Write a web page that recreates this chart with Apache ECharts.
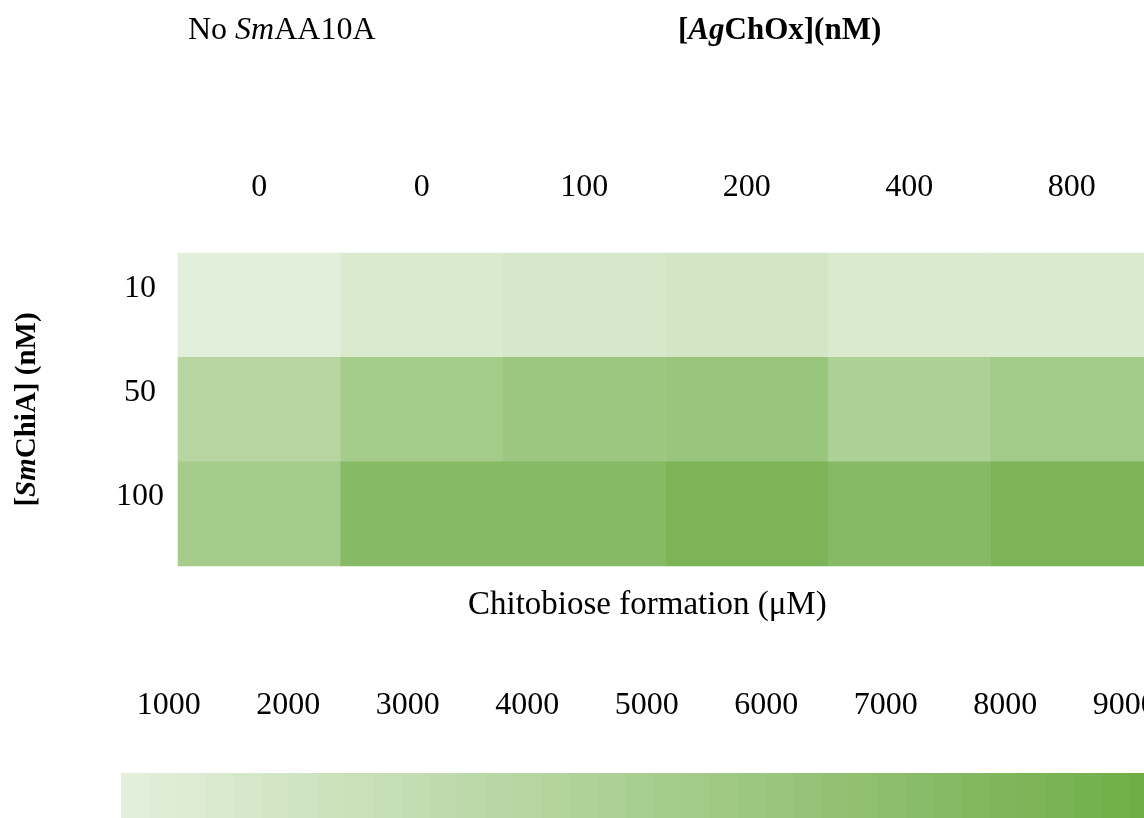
<!DOCTYPE html>
<html>
<head>
<meta charset="utf-8">
<title>Chitobiose formation heatmap</title>
<script src="https://cdn.jsdelivr.net/npm/echarts@6/dist/echarts.min.js"></script>
<style>
  html, body { margin: 0; padding: 0; background: #ffffff; }
  #chart { width: 1144px; height: 818px; }
</style>
</head>
<body>
<div id="chart"></div>
<script>
// [AgChOx] (nM) columns; the first column is the control without SmAA10A
const chOxLevels = ['0', '0', '100', '200', '400', '800'];
// [SmChiA] (nM) rows
const chiALevels = ['10', '50', '100'];

// Chitobiose formation (µM), one array per SmChiA level, ordered as chOxLevels
const chiA10 = [700, 1400, 1600, 2000, 1400, 1500];
const chiA50 = [4100, 5100, 5900, 6200, 4700, 5400];
const chiA100 = [5200, 7600, 7600, 8200, 7500, 8200];

// Colour scale range and its tick labels
const scaleMin = 600;
const scaleMax = 9270;
const scaleTicks = [1000, 2000, 3000, 4000, 5000, 6000, 7000, 8000, 9000];
const scaleSteps = 37;

const rows = [chiA10, chiA50, chiA100];
const cells = [];
rows.forEach(function (vals, r) {
  vals.forEach(function (v, c) { cells.push([c, r, v]); });
});

const serif = '"Liberation Serif", "Times New Roman", serif';
const txt = { fontFamily: serif, fontSize: 32, color: '#000', fontWeight: 'normal' };
const stepWidth = 28;
const barLength = stepWidth * scaleSteps;

const chart = echarts.init(document.getElementById('chart'), null, { renderer: 'canvas' });

chart.setOption({
  backgroundColor: '#ffffff',
  animation: false,
  title: [
    {
      text: '{r|No }{i|Sm}{r|AA10A}',
      left: 188, top: 15, padding: 0,
      textStyle: {
        fontWeight: 'normal',
        rich: {
          r: Object.assign({}, txt),
          i: Object.assign({}, txt, { fontStyle: 'italic' })
        }
      }
    },
    {
      text: '{b|[}{bi|Ag}{b|ChOx](nM)}',
      left: 678, top: 15, padding: 0,
      textStyle: {
        rich: {
          b: Object.assign({}, txt, { fontSize: 31, fontWeight: 'bold' }),
          bi: Object.assign({}, txt, { fontSize: 31, fontWeight: 'bold', fontStyle: 'italic' })
        }
      }
    },
    {
      text: 'Chitobiose formation (μM)',
      left: 468, top: 589, padding: 0,
      textStyle: Object.assign({}, txt, { fontSize: 33 })
    }
  ],
  grid: [
    { left: 178, top: 253, width: 975, height: 313, outerBoundsMode: 'none', containLabel: false },
    { left: 121, top: 773, width: barLength, height: 45, outerBoundsMode: 'none', containLabel: false }
  ],
  xAxis: [
    {
      type: 'category', gridIndex: 0, position: 'top',
      data: chOxLevels,
      axisLine: { show: false }, axisTick: { show: false }, splitLine: { show: false },
      axisLabel: Object.assign({}, txt, { interval: 0, margin: 49 })
    },
    {
      type: 'value', gridIndex: 1, position: 'top',
      min: scaleMin, max: scaleMax,
      axisLine: { show: false }, axisTick: { show: false }, splitLine: { show: false },
      axisLabel: Object.assign({}, txt, {
        margin: 51, customValues: scaleTicks, hideOverlap: false,
        formatter: function (v) { return String(v); }
      })
    }
  ],
  yAxis: [
    {
      type: 'category', gridIndex: 0, inverse: true,
      data: chiALevels,
      axisLine: { show: false }, axisTick: { show: false }, splitLine: { show: false },
      axisLabel: Object.assign({}, txt, {
        interval: 0, margin: 38, align: 'center', verticalAlign: 'bottom', padding: [0, 0, 1, 0]
      }),
      name: '{b|[}{bi|Sm}{b|ChiA] (nM)}',
      nameLocation: 'middle',
      nameGap: 136,
      nameTextStyle: {
        rich: {
          b: Object.assign({}, txt, { fontSize: 29, fontWeight: 'bold' }),
          bi: Object.assign({}, txt, { fontSize: 29, fontWeight: 'bold', fontStyle: 'italic' })
        }
      }
    },
    { type: 'value', gridIndex: 1, show: false, min: 0, max: 1 }
  ],
  visualMap: {
    type: 'piecewise',
    min: scaleMin, max: scaleMax,
    splitNumber: scaleSteps,
    orient: 'horizontal',
    left: 121, top: 773,
    itemWidth: stepWidth, itemHeight: 45, itemGap: 0,
    itemSymbol: 'rect',
    showLabel: false,
    selectedMode: false,
    padding: 0,
    seriesIndex: 0,
    inRange: { color: ['#e2efda', '#70ad47'] }
  },
  series: [
    {
      type: 'heatmap',
      xAxisIndex: 0, yAxisIndex: 0,
      data: cells,
      label: { show: false },
      itemStyle: { borderWidth: 0 },
      emphasis: { disabled: true }
    }
  ]
});
</script>
</body>
</html>
